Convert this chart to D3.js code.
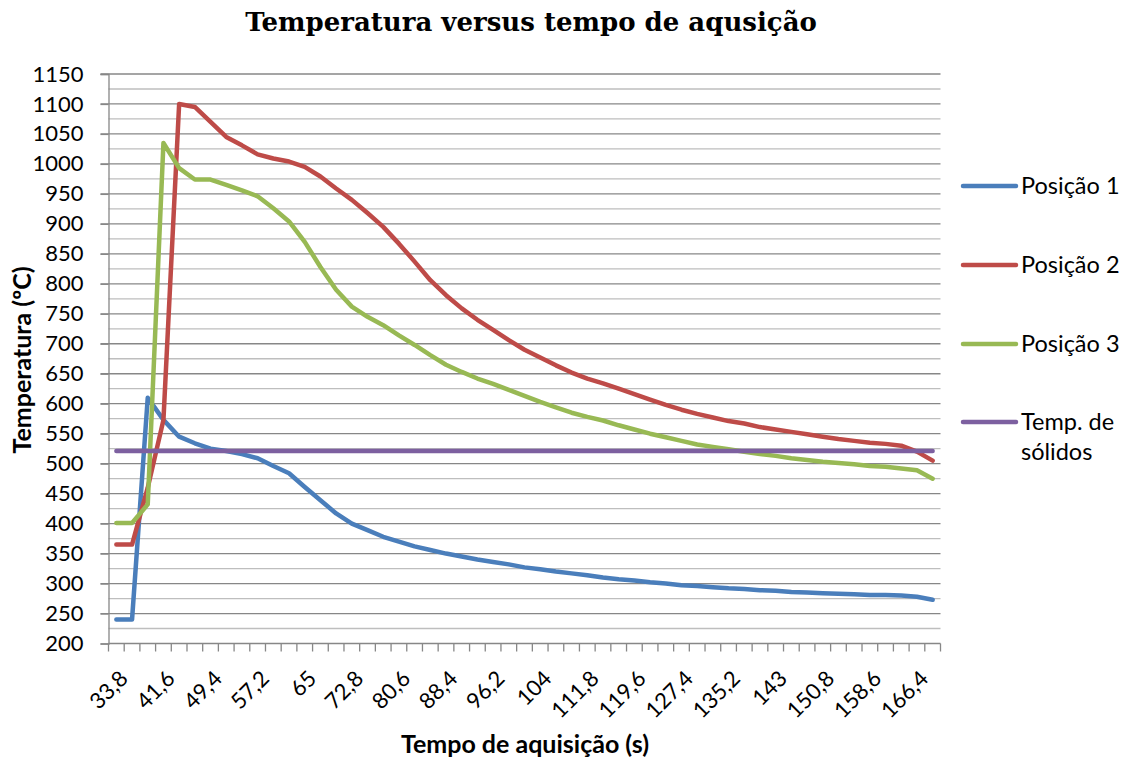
<!DOCTYPE html>
<html>
<head>
<meta charset="utf-8">
<script src="https://cdn.jsdelivr.net/npm/d3@7"></script>
<style>
  html, body { margin: 0; padding: 0; background: #fff; }
  svg { display: block; }
</style>
</head>
<body>
<svg id="chart" width="1129" height="762"></svg>
<script>
// Tempo de aquisição (s) — one category every 2,6 s
const categories = [33.8, 36.4, 39, 41.6, 44.2, 46.8, 49.4, 52, 54.6, 57.2, 59.8, 62.4, 65,
  67.6, 70.2, 72.8, 75.4, 78, 80.6, 83.2, 85.8, 88.4, 91, 93.6, 96.2, 98.8, 101.4, 104,
  106.6, 109.2, 111.8, 114.4, 117, 119.6, 122.2, 124.8, 127.4, 130, 132.6, 135.2, 137.8,
  140.4, 143, 145.6, 148.2, 150.8, 153.4, 156, 158.6, 161.2, 163.8, 166.4, 169];

// Temperaturas medidas (ºC)
const posicao1 = [240, 240, 610, 573, 545, 534, 525, 521, 516, 509, 496, 484, 461, 439, 417,
  400, 389, 378, 370, 362, 356, 350, 345, 340, 336, 332, 327, 324, 320, 317, 314, 310, 307,
  305, 302, 300, 297, 296, 294, 292, 291, 289, 288, 286, 285, 284, 283, 282, 281, 281, 280,
  278, 273];
const posicao2 = [365, 365, 460, 573, 1100, 1095, 1070, 1045, 1031, 1016, 1009, 1004, 995, 979,
  959, 940, 918, 895, 867, 837, 806, 781, 759, 740, 723, 706, 690, 677, 664, 652, 642, 634,
  625, 616, 607, 598, 590, 583, 577, 571, 567, 561, 557, 553, 549, 545, 541, 538, 535, 533,
  530, 520, 505];
const posicao3 = [401, 401, 432, 1035, 993, 974, 974, 965, 956, 946, 926, 904, 870, 828, 790,
  762, 745, 731, 714, 698, 681, 665, 653, 642, 633, 623, 613, 603, 594, 585, 578, 572, 564,
  557, 550, 544, 538, 532, 528, 524, 520, 516, 513, 509, 506, 503, 501, 499, 496, 495, 492,
  489, 475];
// Temperatura de sólidos (constante)
const tempSolidos = 521;

const yTicks = [200, 250, 300, 350, 400, 450, 500, 550, 600, 650, 700, 750, 800, 850, 900,
  950, 1000, 1050, 1100, 1150];
const yMinorTicks = [225, 275, 325, 375, 425, 475, 525, 575, 625, 675, 725, 775, 825, 875,
  925, 975, 1025, 1075, 1125];

const series = [
  { name: ["Posição 1"], color: "#4A7EBB", values: posicao1 },
  { name: ["Posição 2"], color: "#BE4B48", values: posicao2 },
  { name: ["Posição 3"], color: "#98B954", values: posicao3 },
  { name: ["Temp. de", "sólidos"], color: "#7D60A0", values: categories.map(() => tempSolidos) }
];

const fmt = v => String(v).replace(".", ",");
const FONT = "Lato, 'Open Sans', sans-serif";

const svg = d3.select("#chart");
const plot = { left: 108.5, right: 940.5, top: 74, bottom: 643.5 };

const x = d3.scaleBand()
  .domain(categories.map((d, i) => i))
  .range([plot.left, plot.right])
  .paddingInner(0).paddingOuter(0);
const xc = i => x(i) + x.bandwidth() / 2;

const y = d3.scaleLinear().domain([200, 1150]).range([plot.bottom, plot.top]);

// minor gridlines
svg.append("g")
  .selectAll("line")
  .data(yMinorTicks)
  .join("line")
  .attr("x1", plot.left).attr("x2", plot.right)
  .attr("y1", d => y(d)).attr("y2", d => y(d))
  .attr("stroke", "#BEBEBE").attr("stroke-width", 1.3);

// major gridlines with outside tick marks
svg.append("g")
  .selectAll("line")
  .data(yTicks.slice(1))
  .join("line")
  .attr("x1", plot.left - 8).attr("x2", plot.right)
  .attr("y1", d => y(d)).attr("y2", d => y(d))
  .attr("stroke", "#878787").attr("stroke-width", 1.3);

// y axis
const yAxis = d3.axisLeft(y).tickValues(yTicks).tickSize(8).tickPadding(17).tickFormat(d3.format("d"));
const gy = svg.append("g").attr("transform", `translate(${plot.left},0)`).call(yAxis);
gy.select(".domain").attr("stroke", "#878787").attr("stroke-width", 1.3);
gy.selectAll(".tick line").attr("stroke", "#878787").attr("stroke-width", 1.3);
gy.selectAll(".tick text").attr("font-family", FONT).attr("font-size", 22).attr("fill", "#000");

// x axis: tick marks on category boundaries
const boundaries = categories.map((d, i) => x(i)).concat([plot.right]);
svg.append("g")
  .selectAll("line")
  .data(boundaries)
  .join("line")
  .attr("x1", d => d).attr("x2", d => d)
  .attr("y1", plot.bottom).attr("y2", plot.bottom + 8)
  .attr("stroke", "#878787").attr("stroke-width", 1.3);
svg.append("line")
  .attr("x1", plot.left).attr("x2", plot.right)
  .attr("y1", plot.bottom).attr("y2", plot.bottom)
  .attr("stroke", "#878787").attr("stroke-width", 1.3);

// category labels, every third one, rotated
svg.append("g")
  .selectAll("text")
  .data(categories.map((d, i) => ({ d, i })).filter(o => o.i % 3 === 0))
  .join("text")
  .attr("transform", o => `translate(${xc(o.i) + 7.5},${plot.bottom + 31}) rotate(-45)`)
  .attr("text-anchor", "end")
  .attr("dy", "0.35em")
  .attr("font-family", FONT).attr("font-size", 22).attr("fill", "#000")
  .text(o => fmt(o.d));

// series lines
const line = d3.line().x((d, i) => xc(i)).y(d => y(d));
svg.append("g")
  .selectAll("path")
  .data(series)
  .join("path")
  .attr("d", s => line(s.values))
  .attr("fill", "none")
  .attr("stroke", s => s.color)
  .attr("stroke-width", 4.5)
  .attr("stroke-linejoin", "round")
  .attr("stroke-linecap", "round");

// legend
const legend = svg.append("g");
const legendRows = [186, 265, 344, 422];
series.forEach((s, k) => {
  const ly = legendRows[k];
  legend.append("line")
    .attr("x1", 963).attr("x2", 1016).attr("y1", ly).attr("y2", ly)
    .attr("stroke", s.color).attr("stroke-width", 4.5).attr("stroke-linecap", "round");
  const t = legend.append("text")
    .attr("x", 1021).attr("y", ly)
    .attr("font-family", FONT).attr("font-size", 23.5).attr("fill", "#000");
  s.name.forEach((part, j) => {
    t.append("tspan").attr("x", 1021).attr("dy", j === 0 ? "0.35em" : "1.28em").text(part);
  });
});

// title
svg.append("text")
  .attr("x", 531).attr("y", 31)
  .attr("text-anchor", "middle")
  .attr("font-family", "'DejaVu Serif', serif").attr("font-weight", "bold")
  .attr("font-size", 26).attr("fill", "#000")
  .text("Temperatura versus tempo de aqusição");

// axis titles
svg.append("text")
  .attr("transform", "translate(22,360) rotate(-90)")
  .attr("text-anchor", "middle")
  .attr("dy", "0.35em")
  .attr("font-family", FONT).attr("font-weight", "bold")
  .attr("font-size", 25).attr("fill", "#000")
  .text("Temperatura (ºC)");

svg.append("text")
  .attr("x", 525).attr("y", 753)
  .attr("text-anchor", "middle")
  .attr("font-family", FONT).attr("font-weight", "bold")
  .attr("font-size", 25).attr("fill", "#000")
  .text("Tempo de aquisição (s)");
</script>
</body>
</html>
